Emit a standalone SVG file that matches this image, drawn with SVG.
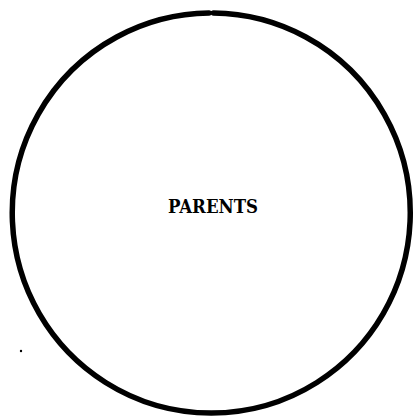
<svg xmlns="http://www.w3.org/2000/svg" width="414" height="419" viewBox="0 0 414 419">
<style>
.ring{fill:none;stroke:#000;stroke-width:5.5;stroke-linecap:round}
.lbl{font-family:"DejaVu Serif","Liberation Serif",serif;font-weight:bold;font-size:18px;fill:#000}
</style>
<rect width="414" height="419" fill="#fff"/>
<g id="parents">
<path class="ring" d="M 209 13 A 199 200 0 1 0 213.5 13"/>
<text class="lbl" x="213" y="213" text-anchor="middle" textLength="90" lengthAdjust="spacingAndGlyphs">PARENTS</text>
</g>
<circle cx="21" cy="351" r="1.2" fill="#000"/>
</svg>
